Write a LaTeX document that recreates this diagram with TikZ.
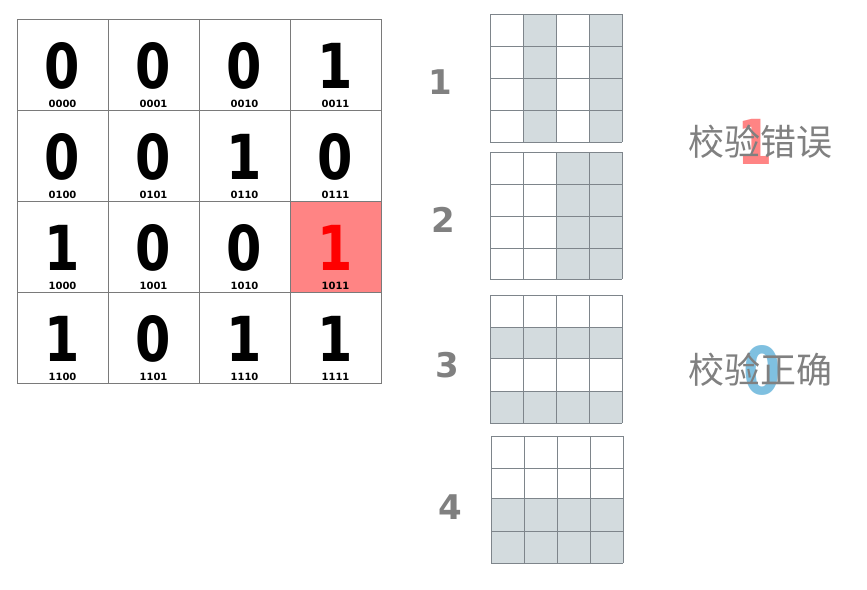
\documentclass[tikz,border=0pt]{standalone}
\usepackage{fontspec}
\setmainfont{DejaVu Sans}
\newfontfamily\cjk{Noto Sans CJK SC}
\newfontfamily\digitfont[FakeStretch=0.82]{DejaVu Sans}
\definecolor{gridgray}{HTML}{7A7A7A}
\definecolor{linegray}{HTML}{7E858B}
\definecolor{cellshade}{HTML}{D3DBDE}
\definecolor{errfill}{HTML}{FF8484}
\definecolor{labgray}{HTML}{808080}
\definecolor{okblue}{HTML}{7FC0E0}
\tikzset{
  cell/.style={draw=gridgray, line width=1pt, minimum size=91pt, inner sep=0pt},
  digit/.style={inner sep=0pt, yshift=-1pt, font=\fontsize{62}{62}\selectfont\digitfont\bfseries},
  bits/.style={font=\fontsize{10}{10}\selectfont\bfseries, inner sep=1.5pt, anchor=south, yshift=1pt},
  num/.style={labgray, font=\fontsize{34}{34}\selectfont\bfseries},
  verdict/.style={labgray, font=\fontsize{36}{36}\selectfont\cjk},
}
\begin{document}
\begin{tikzpicture}[x=1pt,y=-1pt]
\useasboundingbox (0,0) rectangle (867,589);

% 数据格
\node [cell, label={[digit]center:0}, label={[bits]south:0000}] (c0000) at (62.5,64.5) {};
\node [cell, label={[digit]center:0}, label={[bits]south:0001}] (c0001) at (153.5,64.5) {};
\node [cell, label={[digit]center:0}, label={[bits]south:0010}] (c0010) at (244.5,64.5) {};
\node [cell, label={[digit]center:1}, label={[bits]south:0011}] (c0011) at (335.5,64.5) {};
\node [cell, label={[digit]center:0}, label={[bits]south:0100}] (c0100) at (62.5,155.5) {};
\node [cell, label={[digit]center:0}, label={[bits]south:0101}] (c0101) at (153.5,155.5) {};
\node [cell, label={[digit]center:1}, label={[bits]south:0110}] (c0110) at (244.5,155.5) {};
\node [cell, label={[digit]center:0}, label={[bits]south:0111}] (c0111) at (335.5,155.5) {};
\node [cell, label={[digit]center:1}, label={[bits]south:1000}] (c1000) at (62.5,246.5) {};
\node [cell, label={[digit]center:0}, label={[bits]south:1001}] (c1001) at (153.5,246.5) {};
\node [cell, label={[digit]center:0}, label={[bits]south:1010}] (c1010) at (244.5,246.5) {};
\node [cell, fill=errfill, label={[digit,red]center:1}, label={[bits]south:1011}] (c1011) at (335.5,246.5) {};
\node [cell, label={[digit]center:1}, label={[bits]south:1100}] (c1100) at (62.5,337.5) {};
\node [cell, label={[digit]center:0}, label={[bits]south:1101}] (c1101) at (153.5,337.5) {};
\node [cell, label={[digit]center:1}, label={[bits]south:1110}] (c1110) at (244.5,337.5) {};
\node [cell, label={[digit]center:1}, label={[bits]south:1111}] (c1111) at (335.5,337.5) {};

% 校验组编号
\node [num] (n1) at (440,82) {1};
\node [num] (n2) at (443,220) {2};
\node [num] (n3) at (447,365) {3};
\node [num] (n4) at (450,507) {4};

% 校验组 1：第 2、4 列
\fill [cellshade] (523,14) rectangle (556,142);
\fill [cellshade] (589,14) rectangle (622,142);
\foreach \x in {490,523,556,589,622} \draw [linegray, line width=0.9pt] (\x,14) -- (\x,142);
\foreach \y in {14,46,78,110,142} \draw [linegray, line width=0.9pt] (490,\y) -- (622,\y);

% 校验组 2：第 3、4 列
\fill [cellshade] (556,152) rectangle (622,279);
\foreach \x in {490,523,556,589,622} \draw [linegray, line width=0.9pt] (\x,152) -- (\x,279);
\foreach \y in {152,184,216,248,279} \draw [linegray, line width=0.9pt] (490,\y) -- (622,\y);

% 校验组 3：第 2、4 行
\fill [cellshade] (490,327) rectangle (622,358);
\fill [cellshade] (490,391) rectangle (622,423);
\foreach \x in {490,523,556,589,622} \draw [linegray, line width=0.9pt] (\x,295) -- (\x,423);
\foreach \y in {295,327,358,391,423} \draw [linegray, line width=0.9pt] (490,\y) -- (622,\y);

% 校验组 4：第 3、4 行
\fill [cellshade] (491,498) rectangle (623,563);
\foreach \x in {491,524,557,590,623} \draw [linegray, line width=0.9pt] (\x,436) -- (\x,563);
\foreach \y in {436,468,498,531,563} \draw [linegray, line width=0.9pt] (491,\y) -- (623,\y);

% 结论
\node [errfill, font=\fontsize{62}{62}\selectfont\digitfont\bfseries] (bad) at (755,142) {1};
\node [verdict] (wrong) at (760,142) {校验错误};
\node [okblue, font=\fontsize{66}{66}\selectfont\digitfont\bfseries] (good) at (762,370) {0};
\node [verdict] (right) at (760,370) {校验正确};
\end{tikzpicture}
\end{document}
